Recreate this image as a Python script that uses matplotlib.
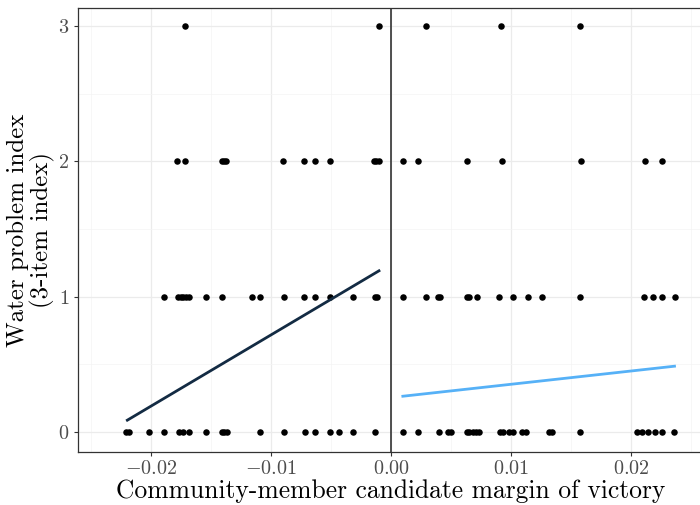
import matplotlib
matplotlib.use('Agg')
import matplotlib.pyplot as plt
from matplotlib.ticker import FixedLocator, FuncFormatter

# Margins of victory by water problem index value (0-3)
x_y0 = [-0.02209, -0.02190, -0.02017, -0.01890, -0.01765, -0.01737, -0.01684,
        -0.01543, -0.01413, -0.01393, -0.01371, -0.01094, -0.00897, -0.00720,
        -0.00636, -0.00512, -0.00434, -0.00318, -0.00131,
        0.00098, 0.00223, 0.00403, 0.00473, 0.00501, 0.00631, 0.00653, 0.00681,
        0.00709, 0.00730, 0.00908, 0.00936, 0.00986, 0.01013, 0.01092, 0.01125,
        0.01319, 0.01341, 0.01577, 0.02048, 0.02095, 0.02145, 0.02200, 0.02256,
        0.02359]
x_y1 = [-0.01890, -0.01774, -0.01751, -0.01732, -0.01710, -0.01682, -0.01543,
        -0.01413, -0.01163, -0.01094, -0.00897, -0.00725, -0.00636, -0.00512,
        -0.00318, -0.00137, -0.00118,
        0.00098, 0.00293, 0.00389, 0.00412, 0.00631, 0.00653, 0.00714, 0.00903,
        0.01019, 0.01141, 0.01258, 0.01579, 0.02111, 0.02181, 0.02256, 0.02364]
x_y2 = [-0.01787, -0.01718, -0.01413, -0.01393, -0.01377, -0.00900, -0.00725,
        -0.00636, -0.00512, -0.00143, -0.00123, -0.00101,
        0.00098, 0.00223, 0.00634, 0.00922, 0.01582, 0.02115, 0.02256]
x_y3 = [-0.01715, -0.00102, 0.00292, 0.00917, 0.01574]

# Linear fits on each side of the cutoff (endpoints)
fit_left_x = [-0.02200, -0.00101]
fit_left_y = [0.087, 1.191]
fit_right_x = [0.00098, 0.02364]
fit_right_y = [0.264, 0.486]

x_ticks = [-0.02, -0.01, 0.0, 0.01, 0.02]
y_ticks = [0, 1, 2, 3]

plt.rcParams['font.family'] = 'serif'
plt.rcParams['font.serif'] = ['cmr10']
plt.rcParams['mathtext.fontset'] = 'cm'
plt.rcParams['axes.formatter.use_mathtext'] = True

fig = plt.figure(figsize=(7.0, 5.05), dpi=100)
ax = fig.add_axes([0.111, 0.105, 1.004 - 0.111, 0.984 - 0.105])

for xs, yv in [(x_y0, 0), (x_y1, 1), (x_y2, 2), (x_y3, 3)]:
    ax.scatter(xs, [yv] * len(xs), s=22, color='black', zorder=3, linewidths=0)

ax.plot(fit_left_x, fit_left_y, color='#132B43', lw=2.0, zorder=4)
ax.plot(fit_right_x, fit_right_y, color='#56B1F7', lw=2.0, zorder=4)
ax.axvline(0, color='#333333', lw=1.2, zorder=2)

ax.set_xlim(-0.02614, 0.0260)
ax.set_ylim(-0.148, 3.133)

ax.xaxis.set_major_locator(FixedLocator(x_ticks))
ax.yaxis.set_major_locator(FixedLocator(y_ticks))
ax.xaxis.set_minor_locator(FixedLocator([-0.025, -0.015, -0.005, 0.005, 0.015, 0.025]))
ax.yaxis.set_minor_locator(FixedLocator([0.5, 1.5, 2.5]))
ax.xaxis.set_major_formatter(FuncFormatter(lambda v, p: f'${v:.2f}$'.replace('-0.00', '0.00')))
ax.yaxis.set_major_formatter(FuncFormatter(lambda v, p: f'${v:.0f}$'))

ax.grid(which='major', color='#EBEBEB', lw=0.9, zorder=0)
ax.grid(which='minor', color='#F4F4F4', lw=0.5, zorder=0)
ax.set_axisbelow(True)
ax.tick_params(which='major', length=3, width=0.8, color='#333333',
               labelcolor='#4D4D4D', labelsize=14.5, pad=3)
ax.tick_params(which='minor', length=0)
for s in ax.spines.values():
    s.set_color('#333333')
    s.set_linewidth(0.9)

ax.set_xlabel('Community-member candidate margin of victory', fontsize=18.4, labelpad=1)
ax.set_ylabel('Water problem index\n(3-item index)', fontsize=18, labelpad=2,
              linespacing=1.05)

fig.savefig('out.png', dpi=100)
